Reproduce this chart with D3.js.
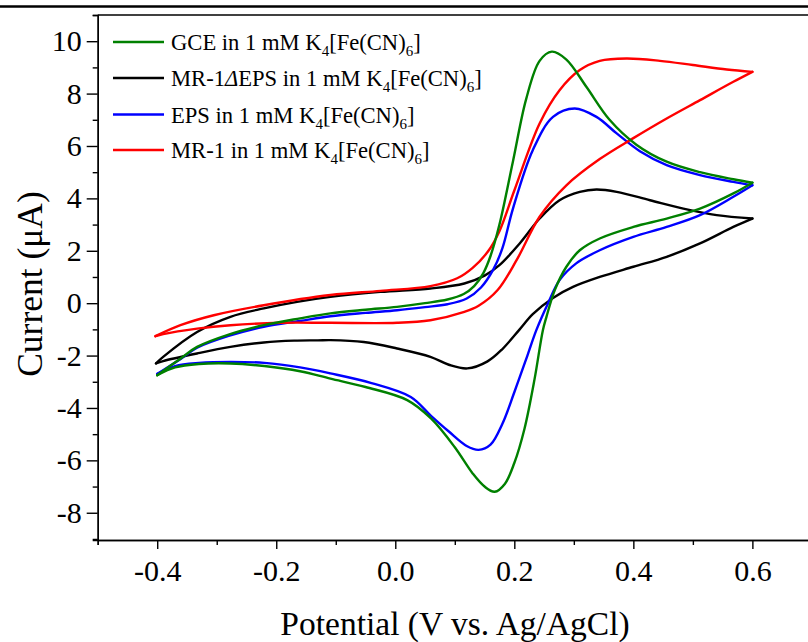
<!DOCTYPE html>
<html>
<head>
<meta charset="utf-8">
<script src="https://cdn.jsdelivr.net/npm/d3@7"></script>
<style>
  body { margin: 0; background: #fff; }
  svg { display: block; }
  text { font-family: "Liberation Serif", "Times New Roman", serif; fill: #000; }
</style>
</head>
<body>
<div id="chart"></div>
<script>
// cyclic voltammograms, [potential V, current uA]
// forward scan (-0.4 -> 0.6) and reverse scan (0.6 -> -0.4)
const gceFwd = [[-0.4,-2.75],[-0.36,-2.1],[-0.333,-1.67],[-0.28,-1.2],[-0.221,-0.84],[-0.16,-0.58],[-0.109,-0.39],[-0.05,-0.25],[0.003,-0.14],[0.05,0.0],[0.0876,0.14],[0.115,0.35],[0.1325,0.65],[0.148,1.15],[0.16,1.8],[0.175,3.0],[0.1976,5.4],[0.22,7.8],[0.2425,9.25],[0.263,9.6],[0.2875,9.3],[0.321,8.26],[0.36,7.0],[0.405,6.05],[0.456,5.4],[0.512,5.0],[0.568,4.73],[0.6,4.6]];
const gceRev = [[0.6,4.6],[0.568,4.19],[0.512,3.61],[0.456,3.23],[0.4,2.91],[0.3435,2.47],[0.31,2.02],[0.2875,1.39],[0.268,0.5],[0.254,-0.52],[0.248,-1.03],[0.234,-2.9],[0.217,-4.8],[0.2,-6.1],[0.184,-6.9],[0.167,-7.2],[0.15,-7.0],[0.13,-6.5],[0.1,-5.5],[0.06,-4.4],[0.02,-3.7],[-0.05,-3.2],[-0.109,-2.88],[-0.16,-2.6],[-0.22,-2.4],[-0.277,-2.3],[-0.33,-2.32],[-0.37,-2.45],[-0.4,-2.75]];

const epsFwd = [[-0.4,-2.7],[-0.36,-2.12],[-0.333,-1.7],[-0.28,-1.25],[-0.221,-0.9],[-0.16,-0.68],[-0.109,-0.5],[-0.05,-0.37],[0.003,-0.27],[0.05,-0.15],[0.0876,-0.04],[0.12,0.18],[0.144,0.6],[0.165,1.3],[0.18,2.1],[0.1976,3.6],[0.231,5.84],[0.265,7.11],[0.3015,7.43],[0.338,7.11],[0.372,6.48],[0.411,5.8],[0.456,5.27],[0.512,4.89],[0.568,4.63],[0.6,4.5]];
const epsRev = [[0.6,4.5],[0.568,4.06],[0.512,3.36],[0.456,2.91],[0.4,2.53],[0.3435,2.02],[0.304,1.52],[0.276,0.88],[0.2565,-0.01],[0.237,-1.03],[0.222,-2.0],[0.2,-3.4],[0.18,-4.6],[0.16,-5.4],[0.14,-5.6],[0.12,-5.45],[0.09,-4.9],[0.06,-4.3],[0.026,-3.58],[-0.04,-3.05],[-0.109,-2.68],[-0.16,-2.45],[-0.22,-2.28],[-0.277,-2.24],[-0.33,-2.28],[-0.37,-2.4],[-0.4,-2.7]];

const mrDelFwd = [[-0.402,-2.3],[-0.39,-2.05],[-0.333,-1.1],[-0.277,-0.52],[-0.221,-0.2],[-0.165,0.05],[-0.109,0.24],[-0.025,0.43],[0.059,0.56],[0.116,0.75],[0.15,1.05],[0.175,1.45],[0.209,2.28],[0.2425,3.23],[0.276,3.93],[0.31,4.25],[0.338,4.34],[0.372,4.25],[0.428,3.93],[0.484,3.61],[0.54,3.36],[0.6,3.23]];
const mrDelRev = [[0.6,3.23],[0.568,2.91],[0.512,2.28],[0.456,1.77],[0.4,1.39],[0.3435,1.0],[0.2986,0.62],[0.265,0.2],[0.231,-0.42],[0.209,-1.0],[0.18,-1.75],[0.155,-2.22],[0.121,-2.49],[0.09,-2.35],[0.059,-2.05],[0.003,-1.73],[-0.053,-1.48],[-0.109,-1.41],[-0.13,-1.42],[-0.17,-1.43],[-0.221,-1.5],[-0.277,-1.67],[-0.333,-1.92],[-0.39,-2.21],[-0.402,-2.3]];

const mrFwd = [[-0.403,-1.26],[-0.361,-0.84],[-0.305,-0.46],[-0.221,-0.08],[-0.109,0.31],[-0.025,0.47],[0.059,0.65],[0.104,0.95],[0.13,1.35],[0.155,1.95],[0.175,2.75],[0.2,4.3],[0.2425,6.86],[0.276,8.13],[0.31,8.9],[0.3435,9.25],[0.3885,9.34],[0.4446,9.25],[0.5,9.09],[0.557,8.92],[0.6,8.83]];
const mrRev = [[0.6,8.83],[0.568,8.45],[0.512,7.75],[0.456,7.05],[0.4,6.3],[0.3435,5.5],[0.2875,4.5],[0.2425,3.3],[0.204,1.65],[0.172,0.5],[0.14,-0.1],[0.116,-0.33],[0.059,-0.65],[0.003,-0.75],[-0.109,-0.75],[-0.193,-0.75],[-0.277,-0.84],[-0.333,-0.97],[-0.39,-1.18],[-0.403,-1.26]];

// series: legend order and colours
const seriesNames = ['GCE', 'MR-1\u0394EPS', 'EPS', 'MR-1'];
const seriesColors = ['#008000', '#000000', '#0000ff', '#ff0000'];
const seriesScans = [[gceFwd, gceRev], [mrDelFwd, mrDelRev], [epsFwd, epsRev], [mrFwd, mrRev]];
const drawOrder = [1, 2, 3, 0];

// ticks
const xMajor = [-0.4, -0.2, 0.0, 0.2, 0.4, 0.6];
const xMinor = [-0.5, -0.3, -0.1, 0.1, 0.3, 0.5, 0.7];
const yMajor = [-8, -6, -4, -2, 0, 2, 4, 6, 8, 10];
const yMinor = [-9, -7, -5, -3, -1, 1, 3, 5, 7, 9, 11];

const [width, height] = [808, 642];

const svg = d3.select('#chart')
    .append('svg')
    .attr('width', width)
    .attr('height', height);

const x = d3.scaleLinear().domain([-0.5, 0.7]).range([97.7, 811.9]);
const y = d3.scaleLinear().domain([-9.04, 11]).range([540, 15]);

// page rule at top
svg.append('line')
    .attr('x1', 0).attr('x2', width)
    .attr('y1', 6.5).attr('y2', 6.5)
    .attr('stroke', '#000').attr('stroke-width', 2.5);

// frame top
svg.append('line')
    .attr('x1', x.range()[0]).attr('x2', x.range()[1])
    .attr('y1', y(11)).attr('y2', y(11))
    .attr('stroke', '#000').attr('stroke-width', 1.4);

// axes
function styleAxis(g) {
    g.selectAll('line').attr('stroke-width', 1.4);
    g.select('.domain').attr('stroke-width', 1.4);
    g.selectAll('text')
        .style('font-family', '"Liberation Serif", "Times New Roman", serif')
        .style('font-size', '30px');
}

svg.append('g')
    .attr('transform', `translate(0 ${y.range()[0]})`)
    .call(d3.axisBottom(x).tickValues(xMinor).tickSize(5).tickFormat(''))
    .call(styleAxis);
svg.append('g')
    .attr('transform', `translate(0 ${y.range()[0]})`)
    .call(d3.axisBottom(x).tickValues(xMajor).tickSize(9).tickSizeOuter(0)
        .tickPadding(11).tickFormat((d) => d.toFixed(1)))
    .call(styleAxis);

svg.append('g')
    .attr('transform', `translate(${x.range()[0]} 0)`)
    .call(d3.axisLeft(y).tickValues(yMinor).tickSize(5).tickFormat(''))
    .call(styleAxis);
svg.append('g')
    .attr('transform', `translate(${x.range()[0]} 0)`)
    .call(d3.axisLeft(y).tickValues(yMajor).tickSize(11).tickSizeOuter(0)
        .tickPadding(5).tickFormat((d) => String(d)))
    .call(styleAxis);

// axis titles
svg.append('text')
    .attr('x', 455).attr('y', 635)
    .attr('text-anchor', 'middle')
    .style('font-size', '33.5px')
    .text('Potential (V vs. Ag/AgCl)');

svg.append('text')
    .attr('transform', 'translate(42 284) rotate(-90)')
    .attr('text-anchor', 'middle')
    .style('font-size', '35.5px')
    .text('Current (\u03bcA)');

// curves
const line = d3.line()
    .x((d) => x(d[0]))
    .y((d) => y(d[1]))
    .curve(d3.curveCatmullRom.alpha(0.5));

const plot = svg.append('g');
drawOrder.forEach((i) => {
    seriesScans[i].forEach((scan) => {
        plot.append('path')
            .attr('d', line(scan))
            .attr('fill', 'none')
            .attr('stroke', seriesColors[i])
            .attr('stroke-width', 2.4)
            .attr('stroke-linejoin', 'round')
            .attr('stroke-linecap', 'round');
    });
});

// legend
const legendRows = [42, 78, 114.5, 150];
const legend = svg.append('g');
seriesNames.forEach((name, i) => {
    const ry = legendRows[i];
    legend.append('line')
        .attr('x1', 113).attr('x2', 164)
        .attr('y1', ry).attr('y2', ry)
        .attr('stroke', seriesColors[i])
        .attr('stroke-width', 2.5);

    const t = legend.append('text')
        .attr('x', 171).attr('y', ry + 8)
        .style('font-size', '22.6px');
    if (name.includes('\u0394')) {
        const parts = name.split('\u0394');
        t.append('tspan').text(parts[0]);
        t.append('tspan').style('font-style', 'italic').text('\u0394');
        t.append('tspan').text(parts[1] + ' in 1 mM K');
    } else {
        t.append('tspan').text(name + ' in 1 mM K');
    }
    t.append('tspan').attr('dy', 6).style('font-size', '15px').text('4');
    t.append('tspan').attr('dy', -6).text('[Fe(CN)');
    t.append('tspan').attr('dy', 6).style('font-size', '15px').text('6');
    t.append('tspan').attr('dy', -6).text(']');
});
</script>
</body>
</html>
